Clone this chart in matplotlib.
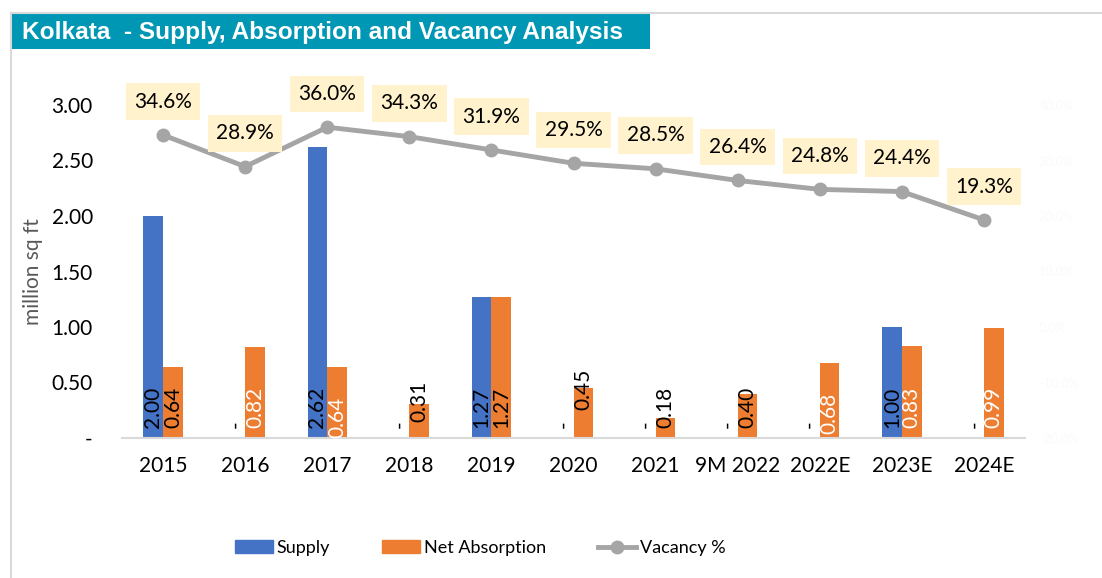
import numpy as np
import matplotlib.pyplot as plt
from matplotlib.lines import Line2D
from matplotlib.patches import Patch, Rectangle

categories = ['2015', '2016', '2017', '2018', '2019', '2020', '2021',
              '9M 2022', '2022E', '2023E', '2024E']
supply = [2.00, 0.0, 2.62, 0.0, 1.27, 0.0, 0.0, 0.0, 0.0, 1.00, 0.0]
absorption = [0.64, 0.82, 0.64, 0.31, 1.27, 0.45, 0.18, 0.40, 0.68, 0.83, 0.99]
vacancy = [34.6, 28.9, 36.0, 34.3, 31.9, 29.5, 28.5, 26.4, 24.8, 24.4, 19.3]
absorption_label_colors = ['black', 'white', 'white', 'black', 'black', 'black',
                           'black', 'black', 'white', 'white', 'white']

BLUE = '#4472C4'
ORANGE = '#ED7D31'
GREY = '#A5A5A5'
TEAL = '#0097B4'
FONT = ['Lato', 'DejaVu Sans']

plt.rcParams['font.family'] = FONT

fig = plt.figure(figsize=(11.02, 5.78), dpi=100)

# outer frame (left + top) and title banner
fig.add_artist(Line2D([11 / 1102, 11 / 1102], [0, 1 - 13 / 578], transform=fig.transFigure,
                      color='#D9D9D9', lw=1.5))
fig.add_artist(Line2D([11 / 1102, 1], [1 - 13 / 578, 1 - 13 / 578], transform=fig.transFigure,
                      color='#D9D9D9', lw=1.5))
fig.add_artist(Rectangle((12 / 1102, 1 - 49 / 578), 638 / 1102, 35 / 578,
                         transform=fig.transFigure, color=TEAL, lw=0))
fig.text(22 / 1102, 1 - 32 / 578, 'Kolkata  - Supply, Absorption and Vacancy Analysis',
         color='white', fontsize=17.6, fontweight='bold', family='Liberation Sans',
         va='center', ha='left')

ax = fig.add_axes([122 / 1102, 1 - 438 / 578, 903 / 1102, 333 / 578])
x = np.arange(len(categories))
w = 0.24
ax.bar(x - w / 2, supply, w, color=BLUE, zorder=2)
ax.bar(x + w / 2, absorption, w, color=ORANGE, zorder=2)

ax.set_xlim(-0.5, len(categories) - 0.5)
ax.set_ylim(0, 3.0)
ax.set_yticks(np.arange(0, 3.01, 0.5))
ax.set_yticklabels(['-'] + ['%.2f' % v for v in np.arange(0.5, 3.01, 0.5)])
ax.set_xticks(x)
ax.set_xticklabels(categories)
ax.tick_params(axis='both', length=0, labelsize=15, colors='black')
ax.tick_params(axis='x', pad=13)
ax.tick_params(axis='y', pad=21)
for s in ['top', 'right', 'left']:
    ax.spines[s].set_visible(False)
ax.spines['bottom'].set_color('#D9D9D9')
ax.spines['bottom'].set_linewidth(1.5)
ax.set_ylabel('million sq ft', fontsize=15, color='#595959', labelpad=6)

# bar data labels (rotated, near the base)
start_override = {(1, 2): 0.0, (1, 3): 0.14, (1, 5): 0.25, (1, 8): 0.035}
for i in x:
    for k, (vals, offs) in enumerate([(supply, -w / 2), (absorption, w / 2)]):
        v = vals[i]
        txt = '-' if v == 0 else '%.2f' % v
        col = 'black' if k == 0 else absorption_label_colors[i]
        y0 = start_override.get((k, i), 0.09)
        ax.text(i + offs, y0, txt, rotation=90, ha='center', va='bottom',
                fontsize=15, color=col, zorder=4)

# vacancy on secondary axis
ax2 = ax.twinx()
ax2.set_ylim(-20, 40)
ax2.plot(x, vacancy, color=GREY, lw=3.5, marker='o', ms=9, zorder=3)
ax2.set_yticks(np.arange(-20, 41, 10))
ax2.set_yticklabels(['%.1f%%' % v for v in np.arange(-20, 41, 10)])
ax2.tick_params(axis='y', length=0, labelsize=9, colors='#FAFAFA', pad=10)
for s in ax2.spines.values():
    s.set_visible(False)
for i, v in enumerate(vacancy):
    ax2.annotate('%.1f%%' % v, (i, v), xytext=(0, 24), textcoords='offset points',
                 ha='center', va='center', fontsize=15, color='black',
                 bbox=dict(boxstyle='square,pad=0.4', fc='#FFF2CC', ec='none'))

handles = [Patch(color=BLUE, label='Supply'),
           Patch(color=ORANGE, label='Net Absorption'),
           Line2D([], [], color=GREY, lw=3.5, marker='o', ms=9, label='Vacancy %')]
fig.legend(handles=handles, loc='center', bbox_to_anchor=(480 / 1102, 1 - 548 / 578),
           ncol=3, frameon=False, fontsize=13, columnspacing=2.9,
           handlelength=2.1, handletextpad=0.2)

fig.savefig('out.png', dpi=100)
